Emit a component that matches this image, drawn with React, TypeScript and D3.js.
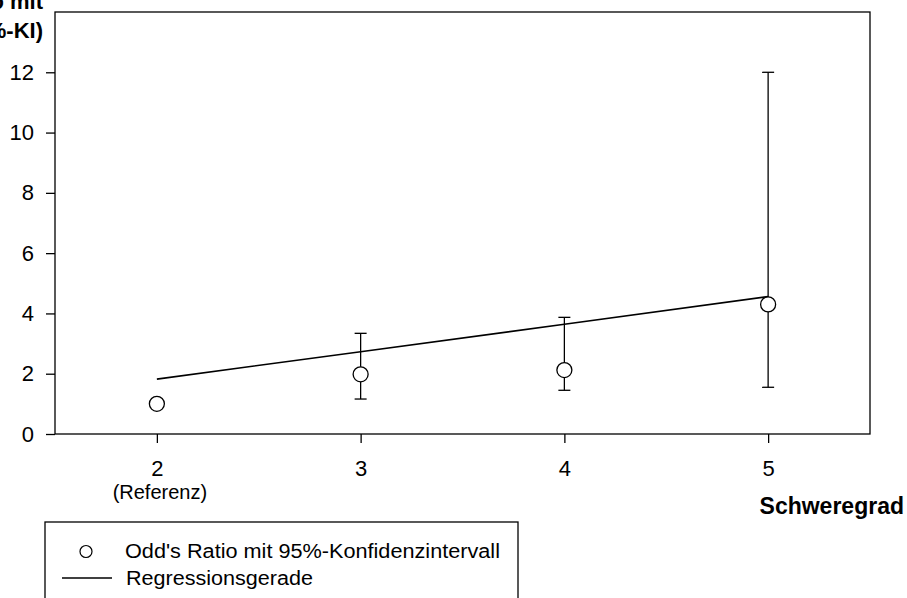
import React, { useRef, useEffect } from "react";
import * as d3 from "d3";

// severity grades (x) and odds ratios with 95% CI
const grades = [2, 3, 4, 5];
const oddsRatio = [1.0, 1.98, 2.12, 4.3];
const ciLower = [null, 1.16, 1.45, 1.55];
const ciUpper = [null, 3.34, 3.87, 12.0];
const regression = [1.82, 2.73, 3.64, 4.56];
const yTicks = [0, 2, 4, 6, 8, 10, 12];
const xTickLabels = ["2", "3", "4", "5"];

const App = () => {
  const svgRef = useRef<SVGSVGElement>(null);

  useEffect(() => {
    const w = 907;
    const h = 598;
    const svg = d3.select(svgRef.current).attr("width", w).attr("height", h);
    svg.selectAll("*").remove();

    const font = "'Liberation Sans', Arial, sans-serif";
    const left = 55, right = 870, top = 12, bottom = 434;

    const x = d3.scaleLinear().domain([1.5, 5.5]).range([left, right]);
    const y = d3.scaleLinear().domain([0, 14]).range([bottom, top]);

    // frame
    svg.append("rect")
      .attr("x", left).attr("y", top)
      .attr("width", right - left).attr("height", bottom - top)
      .attr("fill", "none").attr("stroke", "#000").attr("stroke-width", 1.3);

    // y axis
    const yAxis = svg.append("g")
      .attr("transform", `translate(${left},0)`)
      .call(d3.axisLeft(y).tickValues(yTicks).tickSize(9).tickPadding(12));
    yAxis.select(".domain").remove();
    yAxis.selectAll("line").attr("stroke-width", 1.3);
    yAxis.selectAll("text").attr("font-size", 22).attr("font-family", font).attr("fill", "#000");

    // x axis
    const xAxis = svg.append("g")
      .attr("transform", `translate(0,${bottom})`)
      .call(
        d3.axisBottom(x).tickValues(grades).tickSize(9).tickPadding(17)
          .tickFormat((d, i) => xTickLabels[i])
      );
    xAxis.select(".domain").remove();
    xAxis.selectAll("line").attr("stroke-width", 1.3);
    xAxis.selectAll("text").attr("font-size", 22).attr("font-family", font).attr("fill", "#000");

    svg.append("text")
      .attr("x", x(2) + 3).attr("y", 499)
      .attr("text-anchor", "middle")
      .attr("font-family", font).attr("font-size", 20)
      .text("(Referenz)");

    svg.append("text")
      .attr("x", 904).attr("y", 514)
      .attr("text-anchor", "end")
      .attr("font-family", font).attr("font-size", 23).attr("font-weight", "bold")
      .text("Schweregrad");

    // y title (cut off on the left, as in the original)
    const yTitle = svg.append("text")
      .attr("text-anchor", "end")
      .attr("font-family", font).attr("font-size", 22).attr("font-weight", "bold");
    yTitle.append("tspan").attr("x", 43).attr("y", 9).text("Odd's Ratio mit");
    yTitle.append("tspan").attr("x", 43).attr("y", 38).text("(95%-KI)");

    // regression line
    const line = d3.line<number>().x((d, i) => x(grades[i])).y((d) => y(d));
    svg.append("path")
      .datum(regression)
      .attr("d", line)
      .attr("fill", "none").attr("stroke", "#000").attr("stroke-width", 1.6);

    // error bars
    grades.forEach((g, i) => {
      const lo = ciLower[i];
      const hi = ciUpper[i];
      if (lo == null || hi == null) return;
      const cx = x(g);
      const gg = svg.append("g").attr("stroke", "#000").attr("stroke-width", 1.3);
      gg.append("line").attr("x1", cx).attr("x2", cx).attr("y1", y(lo)).attr("y2", y(hi));
      gg.append("line").attr("x1", cx - 6).attr("x2", cx + 6).attr("y1", y(lo)).attr("y2", y(lo));
      gg.append("line").attr("x1", cx - 6).attr("x2", cx + 6).attr("y1", y(hi)).attr("y2", y(hi));
    });

    // points
    svg.selectAll(".pt")
      .data(oddsRatio)
      .join("circle")
      .attr("cx", (d, i) => x(grades[i]))
      .attr("cy", (d) => y(d))
      .attr("r", 7.5)
      .attr("fill", "#fff").attr("stroke", "#000").attr("stroke-width", 1.3);

    // legend
    svg.append("rect")
      .attr("x", 45).attr("y", 522).attr("width", 473).attr("height", 100)
      .attr("fill", "none").attr("stroke", "#000").attr("stroke-width", 1.3);
    svg.append("circle")
      .attr("cx", 86).attr("cy", 551.5).attr("r", 6)
      .attr("fill", "#fff").attr("stroke", "#000").attr("stroke-width", 1.2);
    svg.append("text")
      .attr("x", 125).attr("y", 558)
      .attr("font-family", font).attr("font-size", 20)
      .attr("textLength", 375).attr("lengthAdjust", "spacingAndGlyphs")
      .text("Odd's Ratio mit 95%-Konfidenzintervall");
    svg.append("line")
      .attr("x1", 62).attr("x2", 112).attr("y1", 578).attr("y2", 578)
      .attr("stroke", "#000").attr("stroke-width", 1.5);
    svg.append("text")
      .attr("x", 126).attr("y", 585)
      .attr("font-family", font).attr("font-size", 20)
      .attr("textLength", 187).attr("lengthAdjust", "spacingAndGlyphs")
      .text("Regressionsgerade");
  }, []);

  return (
    <div style={{ position: "absolute", left: 0, top: 0 }}>
      <svg ref={svgRef} style={{ display: "block", background: "#fff" }}></svg>
    </div>
  );
};

export default App;
